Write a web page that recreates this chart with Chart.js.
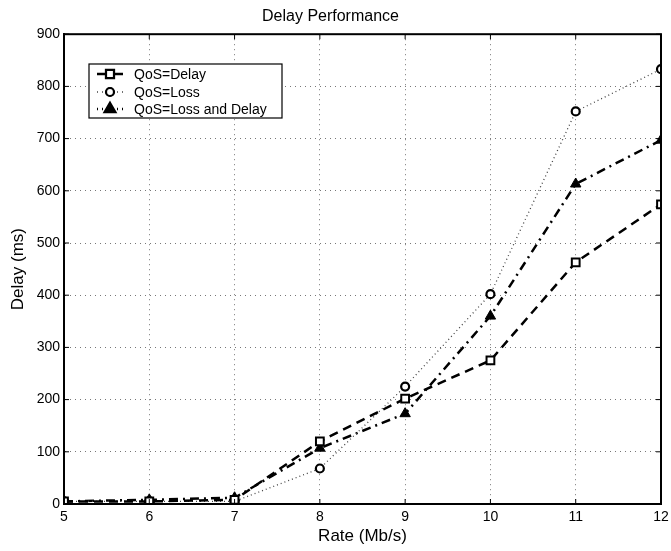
<!DOCTYPE html>
<html>
<head>
<meta charset="utf-8">
<script src="https://cdn.jsdelivr.net/npm/chart.js@4.4.0/dist/chart.umd.min.js"></script>
<style>
  html, body { margin: 0; padding: 0; background: #fff; }
  #wrap { width: 671px; height: 551px; }
</style>
</head>
<body>
<div id="wrap"><canvas id="delayChart" width="671" height="551"></canvas></div>
<script>
// rate in Mb/s, delay in ms
const rates = [5, 6, 7, 8, 9, 10, 11, 12];
const qosDelay = [5, 5, 8, 120, 202, 275, 463, 574];
const qosLoss = [5, 5, 5, 68, 225, 402, 752, 833];
const qosLossDelay = [5, 8, 12, 107, 173, 360, 613, 697];
const seriesNames = ["QoS=Delay", "QoS=Loss", "QoS=Loss and Delay"];

const FONT = "'Liberation Sans', Arial, Helvetica, sans-serif";

function points(values) {
  return rates.map((r, i) => ({ x: r, y: values[i] }));
}

const styles = [
  { color: "#000", width: 2.5, dash: [9, 6], point: "rect", radius: 5.5, fill: "#fff", pw: 2 },
  { color: "#444", width: 1.3, dash: [1, 3], point: "circle", radius: 4, fill: "#fff", pw: 2.2 },
  { color: "#000", width: 2.5, dash: [9, 5, 2, 5], point: "triangle", radius: 6, fill: "#000", pw: 1 }
];

const datasets = [qosDelay, qosLoss, qosLossDelay].map((vals, i) => ({
  label: seriesNames[i],
  data: points(vals),
  borderColor: styles[i].color,
  borderWidth: styles[i].width,
  borderDash: styles[i].dash,
  pointStyle: styles[i].point,
  pointRadius: styles[i].radius,
  pointBackgroundColor: styles[i].fill,
  pointBorderColor: "#000",
  pointBorderWidth: styles[i].pw,
  tension: 0,
  fill: false
}));

// frame box, inward ticks and the boxed legend in the upper left
const framePlugin = {
  id: "frame",
  afterDraw(chart) {
    const { ctx, chartArea: a, scales } = chart;
    ctx.save();
    ctx.strokeStyle = "#000";
    ctx.lineWidth = 1;
    ctx.setLineDash([]);
    ctx.beginPath();
    scales.x.ticks.forEach(t => {
      const px = scales.x.getPixelForValue(t.value);
      ctx.moveTo(px, a.bottom); ctx.lineTo(px, a.bottom - 5);
      ctx.moveTo(px, a.top); ctx.lineTo(px, a.top + 5);
    });
    scales.y.ticks.forEach(t => {
      const py = scales.y.getPixelForValue(t.value);
      ctx.moveTo(a.left, py); ctx.lineTo(a.left + 5, py);
      ctx.moveTo(a.right, py); ctx.lineTo(a.right - 5, py);
    });
    ctx.stroke();
    ctx.lineWidth = 2;
    ctx.strokeRect(a.left, a.top, a.right - a.left, a.bottom - a.top);

    // legend
    const lx = 89, ly = 64, lw = 193, lh = 54;
    ctx.fillStyle = "#fff";
    ctx.fillRect(lx, ly, lw, lh);
    ctx.lineWidth = 1.2;
    ctx.strokeRect(lx, ly, lw, lh);
    const rows = [74, 92, 109];
    ctx.font = "14px " + FONT;
    ctx.textBaseline = "middle";
    ctx.textAlign = "left";
    rows.forEach((y, i) => {
      const s = styles[i];
      ctx.strokeStyle = s.color;
      ctx.lineWidth = s.width;
      ctx.setLineDash(i === 0 ? [] : [1, 4]);
      ctx.beginPath();
      ctx.moveTo(97, y); ctx.lineTo(123, y);
      ctx.stroke();
      ctx.setLineDash([]);
      Chart.helpers.drawPoint(ctx, {
        pointStyle: s.point, radius: s.radius, borderWidth: s.pw, rotation: 0
      }, 110, y);
      ctx.fillStyle = s.fill;
      ctx.strokeStyle = "#000";
      ctx.lineWidth = s.pw;
      ctx.fill();
      ctx.stroke();
      ctx.fillStyle = "#000";
      ctx.fillText(seriesNames[i], 134, y + 1);
    });
    ctx.restore();
  }
};

new Chart(document.getElementById("delayChart"), {
  type: "line",
  data: { datasets: datasets },
  options: {
    responsive: false,
    animation: false,
    layout: { padding: { left: 0, right: 10, top: 0, bottom: 0 } },
    plugins: {
      legend: { display: false },
      tooltip: { enabled: false },
      title: {
        display: true,
        text: "Delay Performance",
        color: "#000",
        font: { family: FONT, size: 16, weight: "normal" },
        padding: { top: 7, bottom: 8 }
      }
    },
    scales: {
      x: {
        type: "linear",
        min: 5,
        max: 12,
        afterFit(scale) {
          scale.height = 47;
          scale.paddingLeft = 0;
          scale.paddingRight = 0;
        },
        ticks: { stepSize: 1, color: "#000", padding: 5, font: { family: FONT, size: 14 } },
        grid: { color: "#777", drawTicks: false, lineWidth: 1 },
        border: { display: true, color: "#000", width: 2, dash: [1, 4] },
        title: {
          display: true,
          text: "Rate (Mb/s)",
          color: "#000",
          font: { family: FONT, size: 17 },
          padding: { top: 0, bottom: 4 }
        }
      },
      y: {
        min: 0,
        max: 900,
        afterFit(scale) {
          scale.width = 64;
          scale.paddingTop = 0;
          scale.paddingBottom = 0;
        },
        ticks: { stepSize: 100, color: "#000", padding: 4, font: { family: FONT, size: 14 } },
        grid: { color: "#777", drawTicks: false, lineWidth: 1 },
        border: { display: true, color: "#000", width: 2, dash: [1, 4] },
        title: {
          display: true,
          text: "Delay (ms)",
          color: "#000",
          font: { family: FONT, size: 17 },
          padding: { top: 8, bottom: 0 }
        }
      }
    }
  },
  plugins: [framePlugin]
});
</script>
</body>
</html>
